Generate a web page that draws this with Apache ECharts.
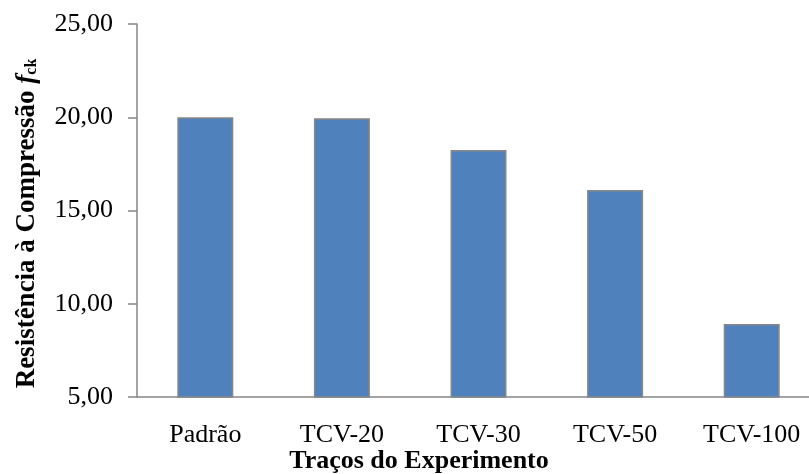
<!DOCTYPE html>
<html>
<head>
<meta charset="utf-8">
<script src="https://cdn.jsdelivr.net/npm/echarts@6/dist/echarts.min.js"></script>
<style>
  html, body { margin: 0; padding: 0; background: #fff; }
  #chart { width: 809px; height: 474px; }
</style>
</head>
<body>
<div id="chart"></div>
<script>
var categories = ['Padrão', 'TCV-20', 'TCV-30', 'TCV-50', 'TCV-100'];
var fckValues = [20.00, 19.95, 18.25, 16.10, 8.92];
var yMin = 5, yMax = 25, yStep = 5;

var serif = "'Liberation Serif', 'Times New Roman', serif";
var axisGray = '#868686';

var chart = echarts.init(document.getElementById('chart'));

var option = {
    backgroundColor: '#fff',
    animation: false,
    title: {
        text: 'Traços do Experimento',
        left: 414,
        top: 443,
        textAlign: 'center',
        textStyle: {
            fontFamily: serif,
            fontWeight: 'bold',
            fontSize: 26,
            color: '#000'
        }
    },
    grid: {
        left: 137,
        top: 24,
        bottom: 77,
        right: -11,
        containLabel: false,
        outerBoundsMode: 'none'
    },
    xAxis: {
        type: 'category',
        data: categories,
        axisLine: { lineStyle: { color: axisGray, width: 1.5 } },
        axisTick: { show: false },
        axisLabel: {
            margin: 25,
            interval: 0,
            fontFamily: serif,
            fontSize: 26,
            color: '#000'
        }
    },
    yAxis: {
        type: 'value',
        min: yMin,
        max: yMax,
        interval: yStep,
        name: '{b|Resistência à Compressão }{f|f}{s|ck}',
        nameLocation: 'middle',
        nameRotate: 90,
        nameGap: 96,
        nameTruncate: { maxWidth: 600 },
        nameTextStyle: {
            padding: [0, 26, 0, 0],
            rich: {
                b: { fontFamily: serif, fontWeight: 'bold', fontSize: 27, color: '#000' },
                f: { fontFamily: serif, fontWeight: 'bold', fontStyle: 'italic', fontSize: 27, color: '#000' },
                s: { fontFamily: serif, fontWeight: 'bold', fontSize: 16, color: '#000', padding: [9, 0, 0, 0] }
            }
        },
        axisLine: { show: true, lineStyle: { color: axisGray, width: 1.5 } },
        axisTick: { show: true, inside: false, length: 9, lineStyle: { color: axisGray, width: 1.5 } },
        splitLine: { show: false },
        axisLabel: {
            margin: 24,
            fontFamily: serif,
            fontSize: 26,
            color: '#000',
            formatter: function (v) { return v.toFixed(2).replace('.', ','); }
        }
    },
    series: [{
        type: 'bar',
        data: fckValues,
        barWidth: '41%',
        itemStyle: {
            color: '#4f81bd',
            borderColor: '#878787',
            borderWidth: 1.5
        }
    }]
};

chart.setOption(option);
</script>
</body>
</html>
